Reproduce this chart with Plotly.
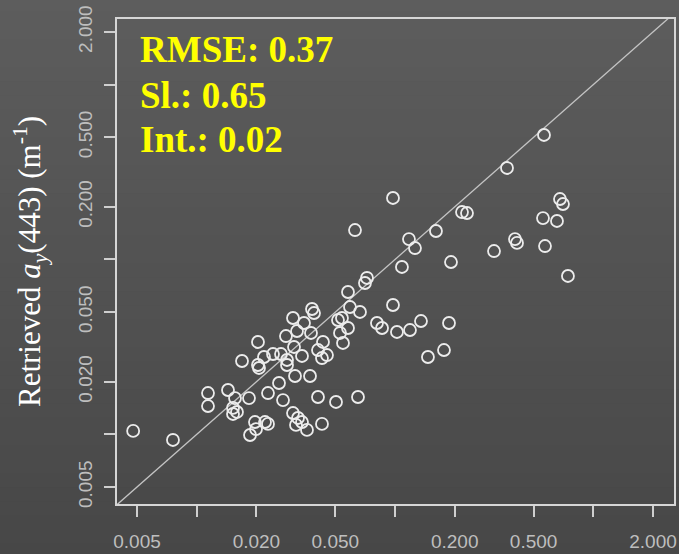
import numpy as np
import plotly.graph_objects as go

# Measured vs. retrieved a_y(443), m^-1
measured = [
    0.00478, 0.00759, 0.0114, 0.0114, 0.01438, 0.0156, 0.01524, 0.01596, 0.01524, 0.01835,
    0.01692, 0.02037, 0.02037, 0.02061, 0.02184, 0.02425, 0.02661, 0.02853, 0.02853, 0.02288,
    0.0260, 0.02724, 0.01967, 0.0221, 0.02288, 0.01991, 0.01857, 0.03059, 0.02819, 0.03095,
    0.03131, 0.03396, 0.03204, 0.03727, 0.0377, 0.03475, 0.03815, 0.03904, 0.04333, 0.04089,
    0.04539, 0.04283, 0.04089, 0.0504, 0.03059, 0.03242, 0.03396, 0.03168, 0.03598, 0.04283,
    0.06506, 0.05158, 0.05402, 0.05793, 0.05929, 0.06659, 0.05793, 0.05279, 0.05466, 0.07056,
    0.07222, 0.09768, 0.08111, 0.08603, 0.1023, 0.119, 0.1352, 0.1872, 0.1466, 0.1766,
    0.09768, 0.06284, 0.1176, 0.1261, 0.1609, 0.1084, 0.1916, 0.2177, 0.2307, 0.3157,
    0.4028, 0.4123, 0.3671, 0.5641, 0.5576, 0.6559, 0.6792, 0.7032, 0.5707, 0.745,
]
retrieved = [
    0.01046, 0.00929, 0.01724, 0.01453, 0.01794, 0.01614, 0.01416, 0.01343, 0.01308, 0.01614,
    0.02628, 0.03375, 0.02493, 0.02397, 0.0277, 0.02881, 0.02881, 0.02663, 0.02493, 0.01724,
    0.01967, 0.01572, 0.01177, 0.01177, 0.01147, 0.01073, 0.00992, 0.04629, 0.03651, 0.0316,
    0.02157, 0.02807, 0.039, 0.02157, 0.038, 0.04334, 0.05211, 0.04943, 0.03375, 0.03037,
    0.02843, 0.02733, 0.01636, 0.01532, 0.01325, 0.01241, 0.01177, 0.01132, 0.0106, 0.01147,
    0.01636, 0.04508, 0.04629, 0.06518, 0.05349, 0.0501, 0.04058, 0.038, 0.03331, 0.07338,
    0.07839, 0.05493, 0.04334, 0.04058, 0.0385, 0.03952, 0.04449, 0.04334, 0.0277, 0.03037,
    0.2247, 0.1474, 0.1309, 0.1163, 0.1455, 0.0906, 0.09674, 0.1868, 0.1844, 0.1118,
    0.1309, 0.1243, 0.3336, 0.515, 0.1726, 0.166, 0.2217, 0.2076, 0.1194, 0.08047,
]

one_to_one = [0.001, 10.0]

tick_vals = [0.005, 0.01, 0.02, 0.05, 0.1, 0.2, 0.5, 1, 2]
tick_text = ["0.005", " ", "0.020", "0.050", " ", "0.200", "0.500", " ", "2.000"]

stats_labels = ["RMSE: 0.37", "Sl.: 0.65", "Int.: 0.02"]
y_title = "Retrieved <i>a</i><sub><i>y</i></sub>(443) (m<sup>-1</sup>)"

fig = go.Figure()

fig.add_trace(go.Scatter(
    x=one_to_one, y=one_to_one, mode="lines",
    line=dict(color="#c4c4c4", width=1.3),
    hoverinfo="skip", showlegend=False,
))

fig.add_trace(go.Scatter(
    x=measured, y=retrieved, mode="markers",
    marker=dict(symbol="circle-open", size=12, color="#ececec",
                line=dict(width=1.8, color="#ececec")),
    showlegend=False,
))

# vertical background gradient (lighter at top, darker at bottom)
n_bands = 40
edges = np.linspace(-0.11, 1.045, n_bands + 1)
top_rgb = np.array([93, 93, 93])
bot_rgb = np.array([71, 71, 71])
shapes = []
for i in range(n_bands):
    t = (i + 0.5) / n_bands
    c = bot_rgb + (top_rgb - bot_rgb) * t
    shapes.append(dict(
        type="rect", xref="paper", yref="paper",
        x0=-0.25, x1=1.05, y0=edges[i], y1=edges[i + 1] + 0.002,
        fillcolor="rgb(%d,%d,%d)" % tuple(c.round().astype(int)),
        line=dict(width=0), layer="below",
    ))

axis_common = dict(
    type="log", automargin=False,
    tickvals=tick_vals, ticktext=tick_text,
    ticks="outside", ticklen=11, tickwidth=1.5, tickcolor="#cfcfcf",
    showline=True, linecolor="#d6d6d6", linewidth=1.6, mirror=True,
    showgrid=False, zeroline=False,
    tickfont=dict(family="Liberation Sans, Arial, sans-serif", size=19, color="#bebebe"),
)

fig.update_layout(
    width=679, height=554,
    margin=dict(l=117, r=5, t=19, b=50),
    paper_bgcolor="rgb(82,82,82)",
    plot_bgcolor="rgba(0,0,0,0)",
    shapes=shapes,
    xaxis=dict(range=[-2.402, 0.407], ticklabelstandoff=8, **axis_common),
    yaxis=dict(range=[-2.398, 0.375], tickangle=-90, ticklabelstandoff=5, **axis_common),
)

fig.add_annotation(
    text=y_title, textangle=-90, showarrow=False,
    xref="paper", yref="paper", x=-0.157, y=0.5,
    xanchor="center", yanchor="middle",
    font=dict(family="Liberation Serif, Times New Roman, serif", size=31, color="#ffffff"),
)

for label, ypos in zip(stats_labels, [0.937, 0.843, 0.752]):
    fig.add_annotation(
        text="<b>%s</b>" % label, showarrow=False,
        xref="paper", yref="paper", x=0.038, y=ypos,
        xanchor="left", yanchor="middle",
        font=dict(family="Liberation Serif, Times New Roman, serif", size=37, color="#ffff00"),
    )

fig.write_html("out.html")
